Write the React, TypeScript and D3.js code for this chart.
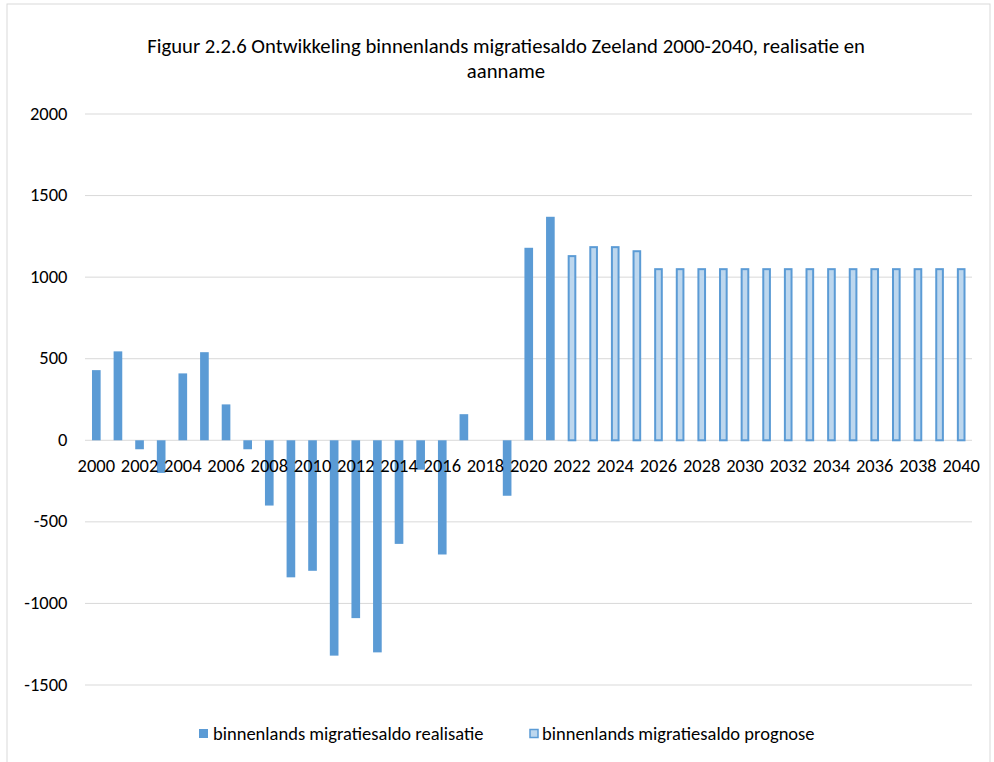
import React from "react";
import * as d3 from "d3";

const years: number[] = d3.range(2000, 2041);
const realisatie: number[] = [430, 545, -55, -200, 410, 540, 220, -55, -400, -840, -800, -1320, -1090, -1300, -635, -180, -700, 160, 0, -340, 1180, 1370];
const prognose: number[] = [1135, 1190, 1190, 1165, 1055, 1055, 1055, 1055, 1055, 1055, 1055, 1055, 1055, 1055, 1055, 1055, 1055, 1055, 1055];
const yTicks: number[] = [-1500, -1000, -500, 0, 500, 1000, 1500, 2000];
const titleLines: string[] = ["Figuur 2.2.6 Ontwikkeling binnenlands migratiesaldo Zeeland 2000-2040, realisatie en", "aanname"];
const legendLabels: string[] = ["binnenlands migratiesaldo realisatie", "binnenlands migratiesaldo prognose"];

const W = 994, H = 762;
const FONT = "Carlito, Calibri, Lato, sans-serif";

export default function App() {
  const x = d3.scaleBand<number>().domain(years).range([85.5, 972]).paddingInner(0.6).paddingOuter(0.3);
  const y = d3.scaleLinear().domain([-1500, 2000]).range([685, 114]);
  const bw = x.bandwidth();
  const realData = realisatie.map((v, i) => ({ year: years[i], v }));
  const progData = prognose.map((v, i) => ({ year: 2022 + i, v }));
  return (
    <svg width={W} height={H} style={{ position: "absolute", left: 0, top: 0 }} fontFamily={FONT}>
      <rect x={0} y={0} width={W} height={H} fill="#fff" />
      <rect x={7} y={4} width={983} height={H + 10} fill="none" stroke="#D9D9D9" strokeWidth={1} />
      {titleLines.map((t, i) => (
        <text key={i} x={506} y={53 + i * 25} textAnchor="middle" fontSize={20.7} fill="#000">{t}</text>
      ))}
      {yTicks.map((t) => (
        <g key={t}>
          <line x1={85} x2={972} y1={y(t)} y2={y(t)} stroke="#D9D9D9" strokeWidth={1} />
          <text x={67.5} y={y(t) + 5.5} textAnchor="end" fontSize={18.5} fill="#000">{t}</text>
        </g>
      ))}
      {realData.map((d) => (
        <rect key={d.year} x={x(d.year) as number} width={bw} y={y(Math.max(0, d.v))} height={Math.abs(y(d.v) - y(0))} fill="#5B9BD5" />
      ))}
      {progData.map((d) => (
        <rect key={d.year} x={(x(d.year) as number) + 1} width={bw - 2} y={y(Math.max(0, d.v)) + 1} height={Math.abs(y(d.v) - y(0)) - 1} fill="#BDD7EE" stroke="#5B9BD5" strokeWidth={2} />
      ))}
      {years.filter((yr) => yr % 2 === 0).map((yr) => (
        <text key={yr} x={(x(yr) as number) + bw / 2} y={472} textAnchor="middle" fontSize={18.5} fill="#000">{yr}</text>
      ))}
      <rect x={199} y={729} width={9} height={9} fill="#5B9BD5" />
      <text x={213} y={740} fontSize={18.5} fill="#000">{legendLabels[0]}</text>
      <rect x={530} y={729.5} width={8} height={8} fill="#BDD7EE" stroke="#5B9BD5" strokeWidth={1.5} />
      <text x={542} y={740} fontSize={18.5} fill="#000">{legendLabels[1]}</text>
    </svg>
  );
}
